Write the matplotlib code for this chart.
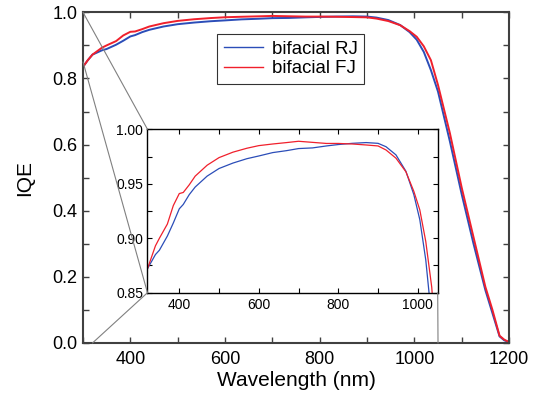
import matplotlib
matplotlib.use("Agg")
import matplotlib.pyplot as plt
from matplotlib.ticker import MultipleLocator, FormatStrFormatter
from matplotlib.patches import ConnectionPatch

plt.rcParams['font.family'] = ['Liberation Sans', 'DejaVu Sans']

# Data
wavelength = [300, 310, 320, 340, 350, 370, 385, 400, 410, 425, 440, 470, 500, 535,
              570, 600, 635, 670, 700, 735, 770, 800, 835, 870, 900, 920, 945, 970,
              990, 1005, 1020, 1035, 1050, 1075, 1100, 1125, 1150, 1165, 1180, 1190, 1200]
iqe_rj = [0.835, 0.855, 0.872, 0.885, 0.889, 0.902, 0.914, 0.927, 0.931, 0.940, 0.947,
          0.957, 0.964, 0.969, 0.973, 0.9755, 0.9786, 0.9804, 0.9823, 0.9829, 0.9847,
          0.9860, 0.9871, 0.9878, 0.9871, 0.9840, 0.9765, 0.9615, 0.940, 0.917, 0.880,
          0.825, 0.760, 0.610, 0.450, 0.300, 0.160, 0.090, 0.020, 0.008, 0.003]
iqe_fj = [0.835, 0.855, 0.872, 0.893, 0.900, 0.913, 0.930, 0.941, 0.942, 0.949, 0.957,
          0.967, 0.974, 0.979, 0.9826, 0.985, 0.9865, 0.9878, 0.989, 0.988, 0.987,
          0.987, 0.9865, 0.9856, 0.9847, 0.981, 0.9735, 0.961, 0.943, 0.926, 0.897,
          0.855, 0.780, 0.635, 0.470, 0.320, 0.170, 0.100, 0.022, 0.010, 0.003]

blue = '#2b4db8'
red = '#f0202c'

fig = plt.figure(figsize=(5.44, 4.03), dpi=100)
ax = fig.add_axes([0.1526, 0.1489, 0.7831, 0.8206])

ax.plot(wavelength, iqe_rj, color=blue, lw=1.4, label='bifacial RJ')
ax.plot(wavelength, iqe_fj, color=red, lw=1.4, label='bifacial FJ')
ax.set_xlim(300, 1200)
ax.set_ylim(0.0, 1.0)
ax.xaxis.set_major_locator(MultipleLocator(200))
ax.xaxis.set_minor_locator(MultipleLocator(100))
ax.yaxis.set_major_locator(MultipleLocator(0.2))
ax.yaxis.set_minor_locator(MultipleLocator(0.1))
ax.yaxis.set_major_formatter(FormatStrFormatter('%.1f'))
ax.tick_params(which='both', direction='in', top=True, right=True, length=4.5,
               width=1, color='#404040', labelsize=13)
ax.tick_params(axis='x', pad=6)
ax.tick_params(axis='y', pad=4)
for s in ax.spines.values():
    s.set_color('#404040')
    s.set_linewidth(1.5)
ax.set_xlabel('Wavelength (nm)', fontsize=15, labelpad=2)
ax.set_ylabel('IQE', fontsize=15, labelpad=13)

leg = ax.legend(loc='upper left', bbox_to_anchor=(0.3146, 0.934), borderaxespad=0,
                fontsize=13.4, frameon=True, fancybox=False, handlelength=2.1,
                handletextpad=0.5, borderpad=0.35, labelspacing=0.15)
leg.get_frame().set_edgecolor('black')
leg.get_frame().set_linewidth(0.8)
for h in leg.get_lines():
    h.set_linewidth(1.0)

# inset
axins = fig.add_axes([0.2711, 0.2737, 0.5335, 0.4055])
axins.plot(wavelength, iqe_rj, color=blue, lw=0.9)
axins.plot(wavelength, iqe_fj, color=red, lw=0.9)
axins.set_xlim(320, 1050)
axins.set_ylim(0.85, 1.0)
axins.xaxis.set_major_locator(MultipleLocator(200))
axins.xaxis.set_minor_locator(MultipleLocator(100))
axins.yaxis.set_major_locator(MultipleLocator(0.05))
axins.yaxis.set_minor_locator(MultipleLocator(0.025))
axins.yaxis.set_major_formatter(FormatStrFormatter('%.2f'))
axins.tick_params(which='both', direction='in', top=True, right=True, length=3.5,
                  width=0.8, labelsize=10)
axins.tick_params(axis='x', pad=4)
axins.tick_params(axis='y', pad=3)
for s in axins.spines.values():
    s.set_linewidth(1.0)

# zoom connector lines
connections = [((300, 1.0), (0, 1)), ((300, 0.85), (0, 0)),
               ((320, 0.0), (0, 0)), ((1050, 0.0), (1, 0))]
for a, b in connections:
    con = ConnectionPatch(xyA=a, coordsA=ax.transData, xyB=b, coordsB=axins.transAxes,
                          color='#808080', lw=0.8)
    fig.add_artist(con)

fig.savefig('out.png', dpi=100)
